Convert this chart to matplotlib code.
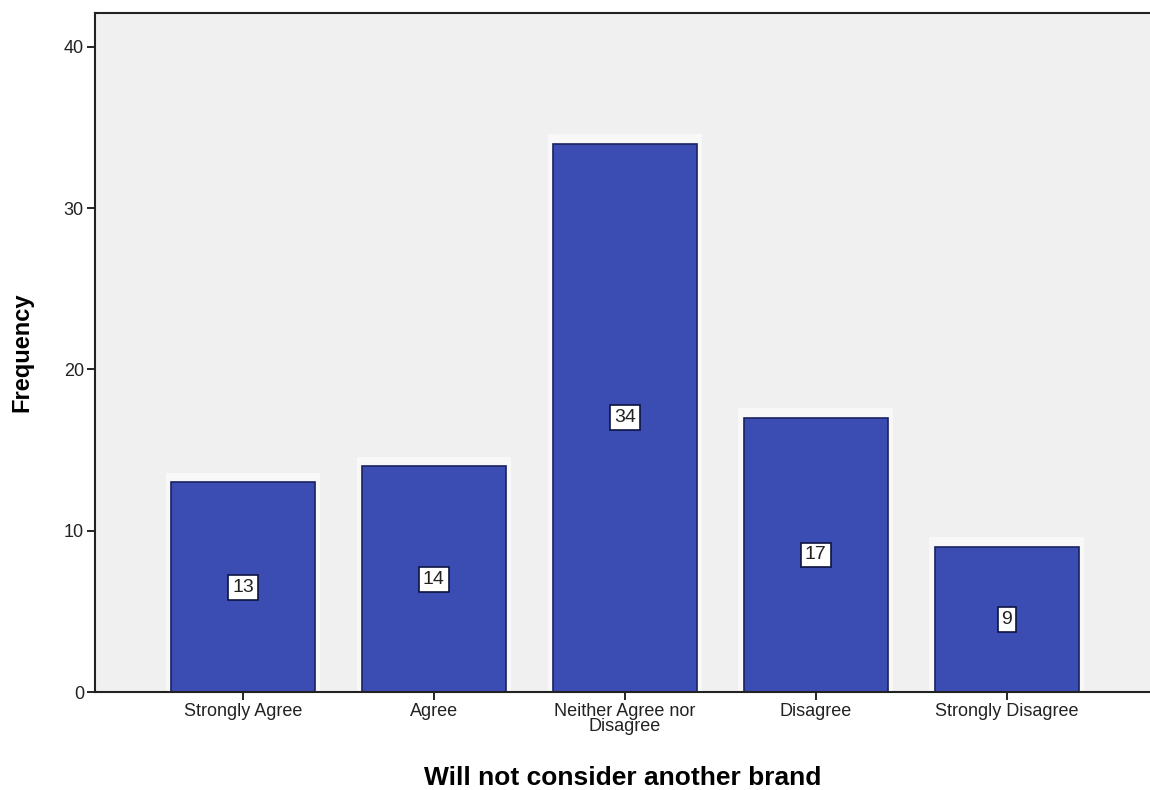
import matplotlib
matplotlib.use("Agg")
import matplotlib.pyplot as plt

categories = ["Strongly Agree", "Agree", "Neither Agree nor\nDisagree",
              "Disagree", "Strongly Disagree"]
frequency = [13, 14, 34, 17, 9]
y_ticks = [0, 10, 20, 30, 40]

BAR_COLOR = "#3b4db3"
EDGE_COLOR = "#1a2260"
BG_COLOR = "#f0f0f0"

plt.rcParams["font.family"] = ["Liberation Sans", "DejaVu Sans"]

fig = plt.figure(figsize=(11.5, 7.9), dpi=100)
ax = fig.add_axes([0.0826, 0.124, 0.9174, 0.8595])
ax.set_facecolor(BG_COLOR)

x = list(range(len(categories)))
# soft white halo behind each bar
ax.bar(x, [v + 0.6 for v in frequency], width=0.81, color="white",
       alpha=0.6, zorder=1)
ax.bar(x, frequency, width=0.754, color=BAR_COLOR, edgecolor=EDGE_COLOR,
       linewidth=1.2, zorder=2)

for xi, v in zip(x, frequency):
    ax.text(xi, v / 2, str(v), ha="center", va="center", fontsize=14,
            color="#222222", zorder=3,
            bbox=dict(boxstyle="square,pad=0.2", fc="white", ec="#0d1440",
                      lw=1.2))

ax.set_xlim(-0.775, 4.75)
ax.set_ylim(0, 42.1)
ax.set_xticks(x)
ax.set_xticklabels(categories, fontsize=13, linespacing=0.85,
                   color="#222222")
ax.set_yticks(y_ticks)
ax.set_yticklabels([str(t) for t in y_ticks], fontsize=13, color="#222222")
ax.tick_params(axis="both", length=6, width=1.2, color="black", pad=2)

for side in ("left", "bottom", "top"):
    ax.spines[side].set_linewidth(1.5)
    ax.spines[side].set_color("#222222")
ax.spines["right"].set_visible(False)

ax.set_ylabel("Frequency", fontsize=17, fontweight="bold", labelpad=22)
ax.set_xlabel("Will not consider another brand", fontsize=19,
              fontweight="bold", labelpad=22)

fig.savefig("out.png", dpi=100)
